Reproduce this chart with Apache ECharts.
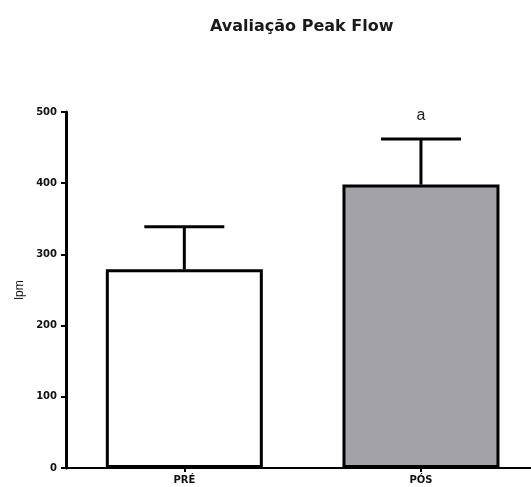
<!DOCTYPE html>
<html>
<head>
<meta charset="utf-8">
<script src="https://cdn.jsdelivr.net/npm/echarts@6/dist/echarts.min.js"></script>
<style>html,body{margin:0;padding:0;background:#fff;}#c{width:531px;height:487px;}</style>
</head>
<body>
<div id="c"></div>
<script>
var categories = ['PRÉ', 'PÓS'];
var means = [279, 398];
var errTops = [339, 462];
var annotations = ['', 'a'];
var yTicks = [0, 100, 200, 300, 400, 500];

var chart = echarts.init(document.getElementById('c'));
var font = '"Liberation Sans", Arial, sans-serif';
var wide = '"DejaVu Sans", sans-serif';
var catIdx = categories.map(function (c, i) { return i; });
chart.setOption({
  animation: false,
  backgroundColor: '#fff',
  title: {
    text: 'Avaliação Peak Flow',
    left: 205, top: 14,
    textStyle: { fontFamily: wide, fontSize: 16, fontWeight: 'bold', color: '#1a1a1a' }
  },
  grid: { left: 66, top: 112, right: 0, height: 356 },
  xAxis: {
    type: 'value',
    min: -0.5, max: 1.465,
    splitLine: { show: false },
    axisLine: { onZero: false, lineStyle: { color: '#000', width: 2 } },
    axisTick: { show: true, customValues: catIdx, length: 4, lineStyle: { color: '#000', width: 2 } },
    axisLabel: {
      customValues: catIdx,
      formatter: function (v) { return categories[Math.round(v)] || ''; },
      color: '#111', fontFamily: wide, fontSize: 10, fontWeight: 'bold', margin: 7
    }
  },
  yAxis: {
    type: 'value',
    min: yTicks[0], max: yTicks[yTicks.length - 1], interval: 100,
    name: 'lpm', nameLocation: 'middle', nameRotate: 90, nameGap: 35,
    nameTextStyle: { fontFamily: font, fontSize: 12, color: '#111' },
    axisLine: { show: true, onZero: false, lineStyle: { color: '#000', width: 3 } },
    axisTick: { show: true, length: 5, lineStyle: { color: '#000', width: 2 } },
    axisLabel: { color: '#111', fontFamily: wide, fontSize: 10, fontWeight: 'bold', margin: 9 },
    splitLine: { show: false }
  },
  series: [
    {
      type: 'bar',
      barWidth: 157,
      data: means.map(function (v, i) {
        return { value: [i, v], itemStyle: { color: i === 0 ? '#ffffff' : '#a3a2a6' } };
      }),
      itemStyle: { borderColor: '#000', borderWidth: 3 },
      z: 2
    },
    {
      type: 'custom',
      z: 1,
      data: means.map(function (v, i) { return [i, v, errTops[i]]; }),
      renderItem: function (params, api) {
        var i = api.value(0);
        var low = api.coord([i, api.value(1)]);
        var high = api.coord([i, api.value(2)]);
        var hw = 40;
        var children = [
          { type: 'line', shape: { x1: low[0], y1: low[1], x2: high[0], y2: high[1] }, style: { stroke: '#000', lineWidth: 3 } },
          { type: 'line', shape: { x1: high[0] - hw, y1: high[1], x2: high[0] + hw, y2: high[1] }, style: { stroke: '#000', lineWidth: 3 } }
        ];
        var ann = annotations[params.dataIndex];
        if (ann) {
          children.push({ type: 'text', x: high[0], y: high[1] - 23, style: { text: ann, fill: '#222', font: '16px ' + font, align: 'center', verticalAlign: 'middle' } });
        }
        return { type: 'group', children: children };
      }
    }
  ]
});
</script>
</body>
</html>
